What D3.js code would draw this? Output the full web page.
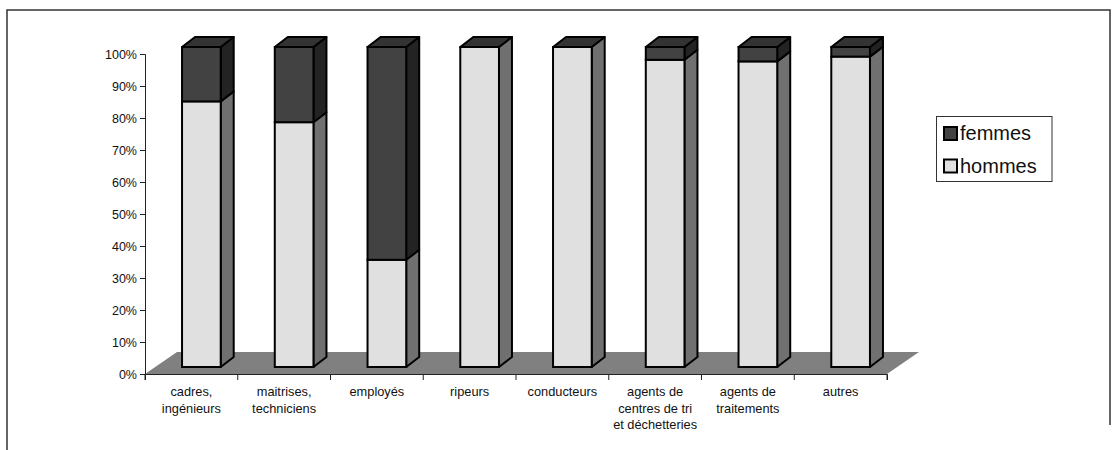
<!DOCTYPE html>
<html>
<head>
<meta charset="utf-8">
<script src="https://cdn.jsdelivr.net/npm/d3@7"></script>
<style>
  body { margin: 0; background: #fff; }
  svg { display: block; font-family: "Liberation Sans", Arial, sans-serif; }
</style>
</head>
<body>
<svg id="chart" width="1119" height="450"></svg>
<script>
// categories (lines of each label) and shares
var categories = ["cadres, ingénieurs", "maitrises, techniciens", "employés", "ripeurs",
                  "conducteurs", "agents de centres de tri et déchetteries",
                  "agents de traitements", "autres"];
var categoryLines = [["cadres,", "ingénieurs"], ["maitrises,", "techniciens"], ["employés"],
                     ["ripeurs"], ["conducteurs"], ["agents de", "centres de tri", "et déchetteries"],
                     ["agents de", "traitements"], ["autres"]];
var hommes = [0.83, 0.765, 0.335, 1.0, 1.0, 0.96, 0.955, 0.97];
var femmes = hommes.map(function (h) { return 1 - h; });
var yTicks = [0, 0.1, 0.2, 0.3, 0.4, 0.5, 0.6, 0.7, 0.8, 0.9, 1];
var seriesNames = ["femmes", "hommes"];

var svg = d3.select("#chart");

// outer frame (cropped chart area)
svg.append("path")
    .attr("d", "M7,450 L7,10 L1110,10 L1110,425")
    .attr("fill", "none").attr("stroke", "#333").attr("stroke-width", 1.5);

var x = d3.scaleBand().domain(categories).range([145, 887]),
    y = d3.scaleLinear().domain([0, 1]).range([374, 54]);

// 3d offsets
var floorDx = 32, floorDy = -22;
var frontDx = 10, frontDy = -7;
var depthDx = 13, depthDy = -10;
var barW = x.bandwidth() * 0.417;

// floor
svg.append("polygon")
    .attr("points", [[x.range()[0], y(0)], [x.range()[1], y(0)],
                     [x.range()[1] + floorDx, y(0) + floorDy], [x.range()[0] + floorDx, y(0) + floorDy]].join(" "))
    .attr("fill", "#808080");

// axes
var gy = svg.append("g").attr("transform", "translate(145,0)")
    .call(d3.axisLeft(y).tickValues(yTicks).tickFormat(d3.format(".0%")).tickSize(5).tickPadding(3));
var gx = svg.append("g").attr("transform", "translate(0,374)")
    .call(d3.axisBottom(x).tickSize(6).tickFormat(""));
gx.selectAll(".tick").remove();
gx.selectAll(".xt").data(d3.range(categories.length + 1)).enter().append("line")
    .attr("x1", function (i) { return x.range()[0] + i * x.step(); })
    .attr("x2", function (i) { return x.range()[0] + i * x.step(); })
    .attr("y1", 0).attr("y2", 6).attr("stroke", "#222");
[gy, gx].forEach(function (g) {
    g.select(".domain").attr("stroke", "#222");
    g.selectAll(".tick line").attr("stroke", "#222");
});
gy.selectAll("text").attr("font-size", "12.5px").attr("fill", "#111")
    .attr("font-family", "Liberation Sans, Arial, sans-serif");

// category labels
categories.forEach(function (c, i) {
    var t = svg.append("text")
        .attr("x", x(c) + x.bandwidth() / 2)
        .attr("y", 396)
        .attr("text-anchor", "middle")
        .attr("font-size", "12.8px").attr("fill", "#111");
    categoryLines[i].forEach(function (l, j) {
        t.append("tspan").attr("x", x(c) + x.bandwidth() / 2).attr("dy", j ? 16.5 : 0).text(l);
    });
});

// bars
var colors = {
    hommes: {front: "#e0e0e0", side: "#707070"},
    femmes: {front: "#424242", side: "#232323", top: "#333333"}
};

function segment(g, x0, yb, yt, col) {
    // side face then front face
    g.append("polygon")
        .attr("points", [[x0 + barW, yt], [x0 + barW + depthDx, yt + depthDy],
                         [x0 + barW + depthDx, yb + depthDy], [x0 + barW, yb]].join(" "))
        .attr("fill", col.side).attr("stroke", "#000").attr("stroke-width", 2)
        .attr("stroke-linejoin", "round");
    g.append("rect")
        .attr("x", x0).attr("y", yt).attr("width", barW).attr("height", Math.max(0, yb - yt))
        .attr("fill", col.front).attr("stroke", "#000").attr("stroke-width", 2);
}

categories.forEach(function (c, i) {
    var g = svg.append("g");
    var x0 = x(c) + x.bandwidth() / 2 - barW / 2 + frontDx;
    var y0 = y(0) + frontDy,
        y1 = y(hommes[i]) + frontDy,
        y2 = y(hommes[i] + femmes[i]) + frontDy;
    segment(g, x0, y0, y1, colors.hommes);
    if (y1 - y2 > 0.5) segment(g, x0, y1, y2, colors.femmes);
    g.append("polygon")
        .attr("points", [[x0, y2], [x0 + depthDx, y2 + depthDy],
                         [x0 + barW + depthDx, y2 + depthDy], [x0 + barW, y2]].join(" "))
        .attr("fill", colors.femmes.top).attr("stroke", "#000").attr("stroke-width", 2)
        .attr("stroke-linejoin", "round");
});

// legend
var lg = svg.append("g");
lg.append("rect").attr("x", 936.5).attr("y", 116.5).attr("width", 115.5).attr("height", 65)
    .attr("fill", "#fff").attr("stroke", "#333").attr("stroke-width", 1);
seriesNames.forEach(function (s, i) {
    var yy = 127 + i * 32.5;
    lg.append("rect").attr("x", 944).attr("y", yy).attr("width", 13).attr("height", 13)
        .attr("fill", colors[s].front).attr("stroke", "#000").attr("stroke-width", 2);
    lg.append("text").attr("x", 960).attr("y", yy + 13).attr("font-size", "20px")
        .attr("fill", "#111").text(s);
});
</script>
</body>
</html>
